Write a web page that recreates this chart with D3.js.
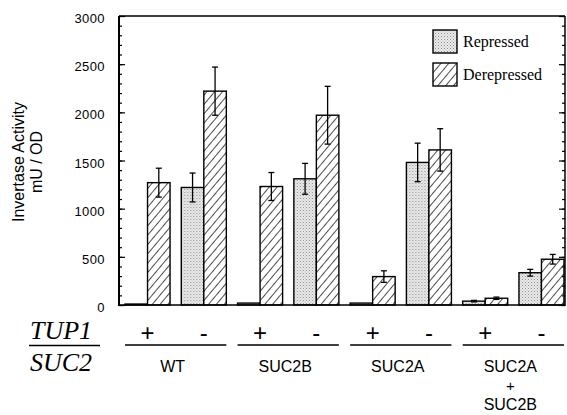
<!DOCTYPE html>
<html>
<head>
<meta charset="utf-8">
<script src="https://cdn.jsdelivr.net/npm/d3@7"></script>
<style>
  body { margin: 0; background: #fff; }
  svg { display: block; }
</style>
</head>
<body>
<svg id="chart" width="567" height="415"></svg>
<script>
// ---- data ----
const conditions = ["WT+", "WT-", "SUC2B+", "SUC2B-", "SUC2A+", "SUC2A-", "AB+", "AB-"];
const tup1Labels = ["+", "-", "+", "-", "+", "-", "+", "-"];
const strains = [["WT"], ["SUC2B"], ["SUC2A"], ["SUC2A", "+", "SUC2B"]];
const series = ["Repressed", "Derepressed"];
const repressed = [10, 1220, 20, 1310, 20, 1480, 40, 335];
const repressedErr = [0, 150, 0, 160, 0, 200, 8, 35];
const derepressed = [1270, 2220, 1230, 1970, 295, 1610, 70, 475];
const derepressedErr = [150, 250, 145, 300, 60, 220, 12, 50];
const yTicks = [0, 500, 1000, 1500, 2000, 2500, 3000];

const svg = d3.select("#chart");
const L = 119, R = 565, T = 16, B = 305;
const sans = "Liberation Sans, Arial, Helvetica, sans-serif";
const serif = "Liberation Serif, Times New Roman, serif";

// patterns
const defs = svg.append("defs");
const dots = defs.append("pattern").attr("id", "dots")
  .attr("patternUnits", "userSpaceOnUse").attr("width", 3).attr("height", 3);
dots.append("rect").attr("width", 3).attr("height", 3).attr("fill", "#ececec");
dots.append("rect").attr("x", 0).attr("y", 0).attr("width", 1).attr("height", 1).attr("fill", "#8a8a8a");
dots.append("rect").attr("x", 1.5).attr("y", 1.5).attr("width", 1).attr("height", 1).attr("fill", "#aaaaaa");
const hatch = defs.append("pattern").attr("id", "hatch")
  .attr("patternUnits", "userSpaceOnUse").attr("width", 6).attr("height", 6)
  .attr("patternTransform", "rotate(40)");
hatch.append("rect").attr("width", 6).attr("height", 6).attr("fill", "#fff");
hatch.append("line").attr("x1", 0).attr("y1", 0).attr("x2", 0).attr("y2", 6)
  .attr("stroke", "#000").attr("stroke-width", 1.4);
const fills = { Repressed: "url(#dots)", Derepressed: "url(#hatch)" };

const y = d3.scaleLinear().domain([0, 3000]).range([B, T]);
const x0 = d3.scaleBand().domain(conditions).range([119.4, 569.6]).paddingInner(0.2).paddingOuter(0.1);
const x1 = d3.scaleBand().domain(series).range([0, x0.bandwidth()]);

const rows = conditions.map((c, i) => ({
  c,
  vals: [
    { s: "Repressed", v: repressed[i], e: repressedErr[i] },
    { s: "Derepressed", v: derepressed[i], e: derepressedErr[i] }
  ]
}));

// bars
const g = svg.append("g");
const grp = g.selectAll("g.grp").data(rows).join("g")
  .attr("transform", d => `translate(${x0(d.c)},0)`);
grp.selectAll("rect").data(d => d.vals).join("rect")
  .attr("x", d => x1(d.s))
  .attr("y", d => y(d.v))
  .attr("width", x1.bandwidth())
  .attr("height", d => B - y(d.v))
  .attr("fill", d => fills[d.s])
  .attr("stroke", "#000").attr("stroke-width", 1.4);
// error bars
const eb = grp.selectAll("g.err").data(d => d.vals.filter(v => v.e > 0)).join("g")
  .attr("stroke", "#000").attr("stroke-width", 1.3);
const cxE = d => x1(d.s) + x1.bandwidth() / 2;
eb.append("line")
  .attr("x1", cxE).attr("x2", cxE)
  .attr("y1", d => y(d.v + d.e)).attr("y2", d => y(d.v - d.e));
eb.append("line")
  .attr("x1", d => cxE(d) - 3).attr("x2", d => cxE(d) + 3)
  .attr("y1", d => y(d.v + d.e)).attr("y2", d => y(d.v + d.e));
eb.append("line")
  .attr("x1", d => cxE(d) - 3).attr("x2", d => cxE(d) + 3)
  .attr("y1", d => y(d.v - d.e)).attr("y2", d => y(d.v - d.e));

// axes
const minor = d3.range(0, 3001, 100);
function ticks(xPos, dirRight, size, vals) {
  const ax = (dirRight ? d3.axisRight(y) : d3.axisLeft(y)).tickValues(vals).tickSize(size).tickFormat("");
  const gg = svg.append("g").attr("transform", `translate(${xPos},0)`).call(ax);
  gg.select(".domain").remove();
  gg.selectAll("line").attr("stroke-width", 1.2);
}
ticks(L, true, 3, minor);
ticks(L, true, 6, yTicks);
ticks(R, false, 3, minor);
ticks(R, false, 6, yTicks);

const axLab = svg.append("g").attr("transform", `translate(${L},0)`)
  .call(d3.axisLeft(y).tickValues(yTicks).tickSize(0).tickPadding(14).tickFormat(d3.format("d")));
axLab.select(".domain").remove();
axLab.selectAll("text").attr("font-family", sans).attr("font-size", 13).attr("fill", "#000")
  .attr("letter-spacing", 0.4).attr("dy", "0.5em");

svg.append("line").attr("x1", L).attr("x2", L).attr("y1", T).attr("y2", B + 1).attr("stroke", "#000").attr("stroke-width", 2);
svg.append("line").attr("x1", R).attr("x2", R).attr("y1", T).attr("y2", B + 1).attr("stroke", "#000").attr("stroke-width", 1.5);
svg.append("line").attr("x1", L).attr("x2", R).attr("y1", T).attr("y2", T).attr("stroke", "#000").attr("stroke-width", 1.5);
svg.append("line").attr("x1", L).attr("x2", R).attr("y1", B).attr("y2", B).attr("stroke", "#000").attr("stroke-width", 1.5);

// y title
const yt = svg.append("text").attr("transform", "translate(0,162) rotate(-90)")
  .attr("text-anchor", "middle").attr("font-family", sans).attr("font-size", 16);
yt.append("tspan").attr("x", 0).attr("y", 24).text("Invertase Activity");
yt.append("tspan").attr("x", 0).attr("y", 42).text("mU / OD");

// legend
const leg = svg.append("g");
series.forEach((s, i) => {
  leg.append("rect").attr("x", 433).attr("y", 30 + i * 33).attr("width", 24).attr("height", 23)
    .attr("fill", fills[s]).attr("stroke", "#000").attr("stroke-width", 1.4);
  leg.append("text").attr("x", 463).attr("y", 47 + i * 33)
    .attr("font-family", serif).attr("font-size", 16).text(s);
});

// bottom annotation
svg.append("text").attr("x", 61).attr("y", 339).attr("text-anchor", "middle")
  .attr("font-family", serif).attr("font-style", "italic").attr("font-size", 26).text("TUP1");
svg.append("line").attr("x1", 29).attr("x2", 100).attr("y1", 345.5).attr("y2", 345.5).attr("stroke", "#000").attr("stroke-width", 1.3);
svg.append("text").attr("x", 61).attr("y", 371).attr("text-anchor", "middle")
  .attr("font-family", serif).attr("font-style", "italic").attr("font-size", 26).text("SUC2");

svg.append("g").selectAll("text").data(conditions).join("text")
  .attr("x", d => x0(d) + x0.bandwidth() / 2).attr("y", 341)
  .attr("text-anchor", "middle").attr("font-family", sans).attr("font-size", 24)
  .text((d, i) => tup1Labels[i]);

strains.forEach((lines, k) => {
  const a = conditions[2 * k], b = conditions[2 * k + 1];
  const xa = x0(a), xb = x0(b) + x0.bandwidth();
  svg.append("line").attr("x1", xa).attr("x2", xb).attr("y1", 345).attr("y2", 345).attr("stroke", "#000").attr("stroke-width", 1.3);
  const cx = (xa + xb) / 2 - 3;
  lines.forEach((t, j) => {
    svg.append("text").attr("x", cx).attr("y", 372 + j * 19).attr("text-anchor", "middle")
      .attr("font-family", sans).attr("font-size", j === 1 ? 15 : 16).text(t);
  });
});
</script>
</body>
</html>
